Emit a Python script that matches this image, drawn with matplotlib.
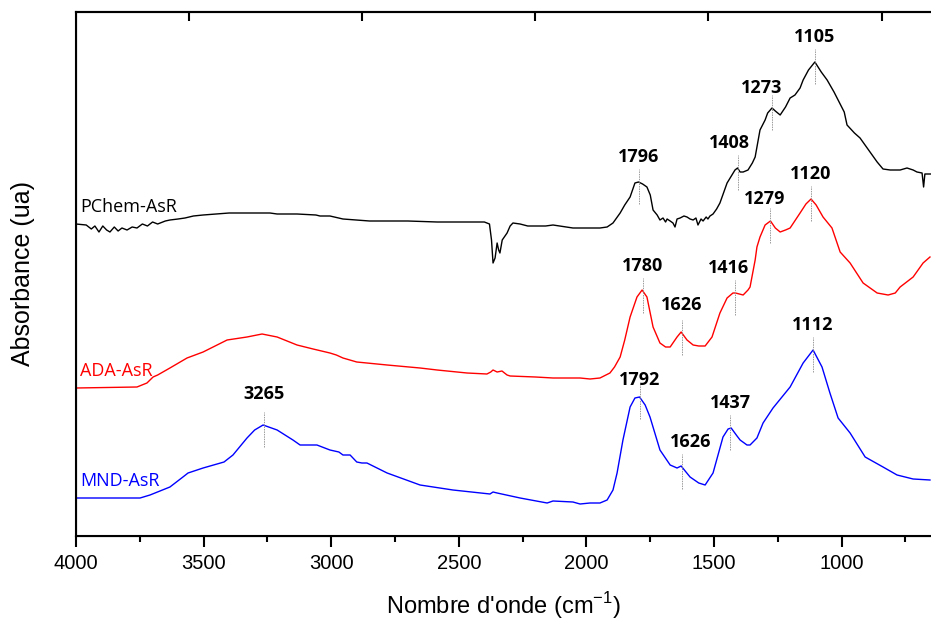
#!/usr/bin/env python3
"""FTIR spectra of PChem-AsR, ADA-AsR and MND-AsR (stacked, arbitrary units)."""

import numpy as np
import matplotlib
matplotlib.use("Agg")
import matplotlib.pyplot as plt

# ─── Data (wavenumber in cm-1, absorbance in a.u.) ────
pchem_wn = [4000, 3960, 3940, 3926, 3910, 3895, 3880, 3867, 3850, 3835, 3820, 3800,
            3780, 3761, 3740, 3720, 3700, 3680, 3650, 3632, 3600, 3573, 3540, 3502,
            3450, 3400, 3330, 3279, 3240, 3212, 3134, 3060, 3044, 3005, 2954, 2900,
            2850, 2781, 2700, 2585, 2523, 2468, 2400, 2380, 2372, 2366, 2358, 2350,
            2344, 2339, 2330, 2311, 2299, 2288, 2260, 2230, 2194, 2160, 2131, 2080,
            2053, 2025, 1986, 1947, 1919, 1896, 1868, 1850, 1829, 1810, 1796, 1780,
            1763, 1750, 1739, 1723, 1712, 1700, 1690, 1684, 1672, 1661, 1653, 1645,
            1633, 1618, 1606, 1594, 1582, 1571, 1563, 1551, 1543, 1531, 1524, 1516,
            1504, 1490, 1477, 1449, 1418, 1408, 1398, 1386, 1367, 1350, 1339, 1320,
            1300, 1290, 1273, 1260, 1241, 1220, 1202, 1183, 1163, 1151, 1130, 1105,
            1080, 1057, 1030, 1014, 990, 979, 950, 928, 900, 861, 838, 810, 771, 744,
            720, 705, 685, 679, 674, 660, 650]
pchem_abs = [3.12, 3.11, 3.07, 3.10, 3.04, 3.10, 3.06, 3.04, 3.09, 3.05, 3.08, 3.06,
             3.09, 3.08, 3.12, 3.10, 3.14, 3.12, 3.15, 3.16, 3.17, 3.18, 3.20, 3.21,
             3.22, 3.23, 3.23, 3.23, 3.23, 3.22, 3.22, 3.21, 3.20, 3.20, 3.17, 3.16,
             3.15, 3.15, 3.15, 3.14, 3.14, 3.14, 3.14, 3.12, 2.96, 2.73, 2.78, 2.93,
             2.86, 2.83, 2.96, 3.03, 3.10, 3.13, 3.12, 3.10, 3.10, 3.10, 3.11, 3.09,
             3.08, 3.08, 3.08, 3.08, 3.09, 3.13, 3.23, 3.31, 3.39, 3.53, 3.54, 3.52,
             3.49, 3.41, 3.26, 3.21, 3.16, 3.18, 3.14, 3.17, 3.15, 3.13, 3.09, 3.17,
             3.18, 3.20, 3.19, 3.17, 3.16, 3.18, 3.11, 3.17, 3.15, 3.19, 3.17, 3.20,
             3.22, 3.27, 3.33, 3.53, 3.66, 3.68, 3.64, 3.64, 3.66, 3.73, 3.79, 4.06,
             4.16, 4.23, 4.28, 4.25, 4.21, 4.29, 4.38, 4.41, 4.48, 4.56, 4.66, 4.74,
             4.64, 4.56, 4.44, 4.36, 4.24, 4.11, 4.03, 3.98, 3.88, 3.74, 3.67, 3.66,
             3.66, 3.68, 3.66, 3.64, 3.63, 3.49, 3.62, 3.62, 3.62]

ada_wn = [4000, 3761, 3722, 3698, 3680, 3632, 3565, 3502, 3408, 3330, 3271, 3212,
          3134, 3071, 3005, 2980, 2954, 2900, 2781, 2652, 2585, 2468, 2390, 2375,
          2366, 2350, 2331, 2311, 2299, 2200, 2131, 2025, 1986, 1947, 1908, 1890,
          1868, 1850, 1829, 1802, 1782, 1763, 1739, 1712, 1690, 1672, 1645, 1629,
          1606, 1582, 1560, 1535, 1508, 1477, 1449, 1426, 1416, 1386, 1367, 1359,
          1339, 1332, 1320, 1300, 1279, 1260, 1241, 1220, 1202, 1163, 1140, 1120,
          1100, 1073, 1038, 1006, 967, 916, 861, 818, 790, 771, 720, 681, 654]
ada_abs = [1.48, 1.49, 1.53, 1.59, 1.61, 1.68, 1.78, 1.84, 1.96, 1.99, 2.02, 1.99,
           1.91, 1.87, 1.83, 1.81, 1.78, 1.74, 1.71, 1.68, 1.66, 1.63, 1.62, 1.64,
           1.66, 1.64, 1.65, 1.61, 1.60, 1.59, 1.58, 1.58, 1.57, 1.58, 1.63, 1.69,
           1.79, 1.96, 2.19, 2.39, 2.46, 2.39, 2.09, 1.93, 1.89, 1.89, 1.99, 2.04,
           1.96, 1.91, 1.90, 1.90, 1.99, 2.23, 2.38, 2.43, 2.43, 2.41, 2.46, 2.49,
           2.76, 2.89, 2.99, 3.11, 3.15, 3.08, 3.04, 3.06, 3.08, 3.23, 3.32, 3.37,
           3.31, 3.19, 3.08, 2.84, 2.73, 2.53, 2.43, 2.41, 2.43, 2.49, 2.59, 2.73, 2.79]

mnd_wn = [4000, 3749, 3710, 3632, 3581, 3561, 3502, 3420, 3385, 3330, 3300, 3267,
          3212, 3150, 3122, 3071, 3056, 3005, 2970, 2954, 2926, 2900, 2880, 2860,
          2781, 2652, 2523, 2378, 2366, 2350, 2260, 2154, 2131, 2053, 2025, 1986,
          1947, 1919, 1896, 1880, 1857, 1829, 1810, 1792, 1770, 1751, 1712, 1672,
          1645, 1629, 1610, 1594, 1560, 1535, 1504, 1465, 1445, 1433, 1410, 1398,
          1371, 1359, 1332, 1308, 1269, 1202, 1151, 1112, 1077, 1046, 1014, 967,
          908, 838, 783, 720, 654]
mnd_abs = [0.38, 0.38, 0.41, 0.49, 0.59, 0.63, 0.68, 0.74, 0.81, 0.98, 1.06, 1.11,
           1.06, 0.96, 0.91, 0.91, 0.91, 0.86, 0.84, 0.81, 0.81, 0.74, 0.73, 0.73,
           0.63, 0.51, 0.46, 0.42, 0.44, 0.43, 0.38, 0.33, 0.35, 0.34, 0.32, 0.33,
           0.33, 0.36, 0.46, 0.63, 0.96, 1.29, 1.38, 1.39, 1.31, 1.19, 0.86, 0.71,
           0.68, 0.70, 0.64, 0.59, 0.53, 0.51, 0.63, 0.99, 1.07, 1.08, 1.00, 0.96,
           0.91, 0.91, 0.98, 1.13, 1.28, 1.49, 1.73, 1.86, 1.69, 1.43, 1.18, 1.03,
           0.79, 0.69, 0.61, 0.57, 0.56]

series_names = ["PChem-AsR", "ADA-AsR", "MND-AsR"]
series_colors = ["black", "red", "blue"]

# peaks marked on each spectrum
pchem_peaks = [1796, 1408, 1273, 1105]
ada_peaks = [1780, 1626, 1416, 1279, 1120]
mnd_peaks = [3265, 1792, 1626, 1437, 1112]

x_ticks = [4000, 3500, 3000, 2500, 2000, 1500, 1000]
top_ticks = [3557, 2879, 2202, 1524, 842]

# label nudges (wavenumber, absorbance) for a few crowded peak labels
label_nudge = {("PChem-AsR", 1273): (39, -0.05), ("PChem-AsR", 1408): (31, 0.0),
               ("ADA-AsR", 1416): (27, 0.0), ("ADA-AsR", 1279): (24, -0.03),
               ("ADA-AsR", 1626): (0, 0.03), ("MND-AsR", 1626): (-35, 0.0),
               ("MND-AsR", 3265): (0, 0.06), ("MND-AsR", 1792): (0, -0.08)}

# ─── Figure ───────────────────────────────────────────────────────────────
plt.rcParams["font.family"] = ["Liberation Sans", "DejaVu Sans"]
fig = plt.figure(figsize=(9.31, 6.19), dpi=100)
ax = fig.add_axes([76 / 931, 83 / 619, 855 / 931, 524 / 619])

spectra = [(pchem_wn, pchem_abs, pchem_peaks),
           (ada_wn, ada_abs, ada_peaks),
           (mnd_wn, mnd_abs, mnd_peaks)]

for name, color, (wn, ab, peaks) in zip(series_names, series_colors, spectra):
    wn = np.asarray(wn, float)
    ab = np.asarray(ab, float)
    ax.plot(wn, ab, color=color, lw=1.0)
    # series label just above the left end of the trace
    ax.text(3985, ab[0] + 0.17, name, color=color, fontsize=13,
            family=["Open Sans", "DejaVu Sans"], ha="left", va="center")
    for p in peaks:
        yp = np.interp(p, wn[::-1], ab[::-1])
        ax.plot([p, p], [yp - 0.22, yp + 0.13], color="#9a9a9a", lw=0.7,
                ls=(0, (1.5, 1)))
        dx, dy = label_nudge.get((name, p), (0, 0))
        ax.text(p + dx, yp + 0.25 + dy, str(p), fontsize=13, fontweight="bold",
                family=["Open Sans", "DejaVu Sans"], ha="center", va="center")

ax.set_xlim(4000, 650)
ax.set_ylim(0, 5.24)
ax.set_xticks(x_ticks)
ax.set_xticks(np.arange(3750, 600, -500), minor=True)
ax.set_yticks([])
ax.tick_params(axis="x", which="major", direction="out", length=8, width=1.5,
               labelsize=14.5, pad=5)
ax.tick_params(axis="x", which="minor", direction="out", length=4.5, width=1.5)
ax.spines["right"].set_visible(False)
for s in ["left", "bottom", "top"]:
    ax.spines[s].set_linewidth(1.5)

top = ax.twiny()
top.set_xlim(ax.get_xlim())
top.set_xticks(top_ticks)
top.set_xticklabels([])
top.tick_params(axis="x", direction="in", length=6.5, width=1.5)
top.spines["right"].set_visible(False)
top.spines["top"].set_linewidth(1.5)

ax.set_xlabel(r"Nombre d'onde (cm$^{\mathregular{-1}}$)", fontsize=17, labelpad=12)
ax.set_ylabel("Absorbance (ua)", fontsize=18)
ax.yaxis.set_label_coords(-0.048, 0.5)

fig.savefig("out.png", dpi=100)
